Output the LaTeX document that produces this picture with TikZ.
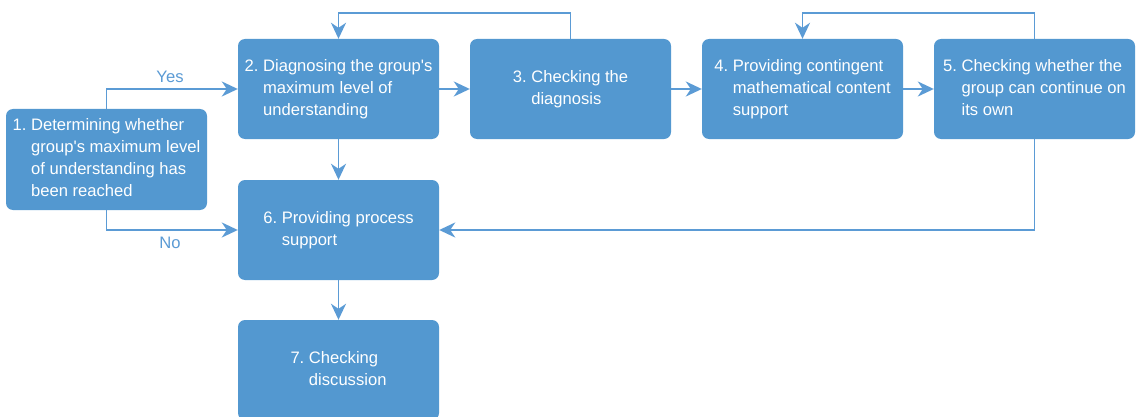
\documentclass[tikz,border=0pt]{standalone}
\usepackage{fontspec}
\setmainfont{Liberation Sans}
\usetikzlibrary{arrows.meta}
\definecolor{boxblue}{HTML}{5398D0}
\definecolor{lineblue}{HTML}{5B9BD5}
\newcommand{\hangtext}[2]{\fontsize{16.6}{22}\selectfont\begin{tabular}{@{}l@{\hspace{0.28em}}l@{}}#1 & #2\end{tabular}}
\newcommand{\apos}{\textquotesingle}
\tikzset{
  stepbox/.style={draw=none, fill=boxblue, rounded corners=7pt, minimum width=201pt, minimum height=100pt, inner sep=0pt, text=white, align=left},
  arr/.style={draw=lineblue, line width=1.9pt, -{Stealth[length=16pt,width=15pt,inset=5pt]}},
  lbl/.style={text=lineblue, font=\fontsize{16.6}{20}\selectfont, inner sep=0pt}
}
\begin{document}
\begin{tikzpicture}[x=1pt,y=-1pt]
\clip (0,0) rectangle (1139,417);
\fill[white] (0,0) rectangle (1139,417);
\node[stepbox, minimum height=101pt] (b1) at (106.5,159.5) {\hangtext{1.}{Determining whether\\ & group\apos s maximum level\\ & of understanding has\\ & been reached}};
\node[stepbox] (b2) at (338.5,89) {\hangtext{2.}{Diagnosing the group\apos s\\ & maximum level of\\ & understanding}};
\node[stepbox] (b3) at (570.5,89) {\hangtext{3.}{Checking the\\ & diagnosis}};
\node[stepbox] (b4) at (802.5,89) {\hangtext{4.}{Providing contingent\\ & mathematical content\\ & support}};
\node[stepbox] (b5) at (1034.5,89) {\hangtext{5.}{Checking whether the\\ & group can continue on\\ & its own}};
\node[stepbox] (b6) at (338.5,230) {\hangtext{6.}{Providing process\\ & support}};
\node[stepbox] (b7) at (338.5,370) {\hangtext{7.}{Checking\\ & discussion}};
\coordinate (top) at (0,13);
\draw[arr] (b1.north) |- (b2.west);
\draw[arr] (b1.south) |- (b6.west);
\node[lbl] (yes) at (170,77) {Yes};
\node[lbl] (no) at (170,243) {No};
\draw[arr] (b2) -- (b3);
\draw[arr] (b3) -- (b4);
\draw[arr] (b4) -- (b5);
\draw[arr] (b3.north) -- (b3.north |- top) -| (b2.north);
\draw[arr] (b5.north) -- (b5.north |- top) -| (b4.north);
\draw[arr] (b2) -- (b6);
\draw[arr] (b5.south) |- (b6.east);
\draw[arr] (b6) -- (b7);
\end{tikzpicture}
\end{document}
